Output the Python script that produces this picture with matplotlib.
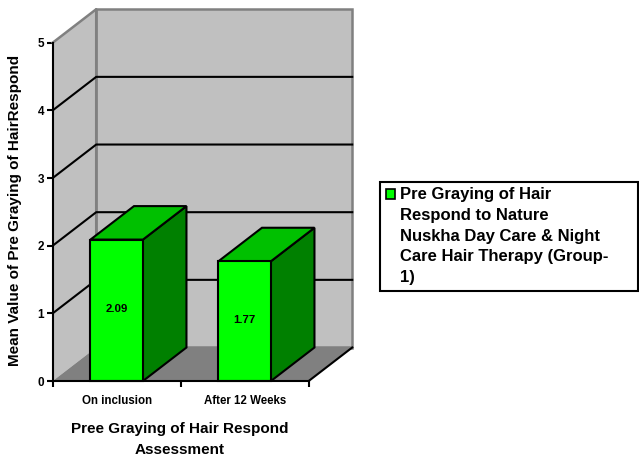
import matplotlib
matplotlib.use("Agg")
import matplotlib.pyplot as plt
from matplotlib.patches import Polygon, Patch

plt.rcParams['font.family'] = ['Liberation Sans', 'DejaVu Sans']
plt.rcParams['font.weight'] = 'bold'

categories = ["On inclusion", "After 12 Weeks"]
values = [2.09, 1.77]
y_ticks = [0, 1, 2, 3, 4, 5]
legend_text = ("Pre Graying of Hair\nRespond to Nature\n"
               "Nuskha Day Care & Night\nCare Hair Therapy (Group-\n1)")
y_title = "Mean Value of Pre Graying of HairRespond"
x_title = "Pree Graying of Hair Respond\nAssessment"

# depth of the fake 3d box, in data units
dx = 0.34
dy = 0.495
bar_w = 0.41
W = 639
H = 459

fig = plt.figure(figsize=(W / 100, H / 100), dpi=100)
ax = fig.add_axes([52.7 / W, 1 - 381 / H, 256 / W, 338.3 / H])
ax.set_xlim(0, len(categories))
ax.set_ylim(0, 5)
ax.patch.set_visible(False)


def poly(pts, fc, ec="none", lw=0, z=1):
    ax.add_patch(Polygon(pts, closed=True, facecolor=fc, edgecolor=ec, linewidth=lw,
                         zorder=z, clip_on=False, joinstyle="miter"))


n = len(categories)
top = y_ticks[-1]
# walls and floor
poly([(dx, dy), (n + dx, dy), (n + dx, top + dy), (dx, top + dy)], "#c0c0c0", "#808080", 1.8)
poly([(0, 0), (dx, dy), (dx, top + dy), (0, top)], "#c0c0c0")
poly([(0, 0), (n, 0), (n + dx, dy), (dx, dy)], "#808080")
ax.plot([0, dx, dx, n + dx], [top, top + dy, dy, dy], color="#808080", lw=1.8, clip_on=False, zorder=2)

for v in y_ticks[1:-1]:
    ax.plot([0, dx, n + dx], [v, v + dy, v + dy], color="black", lw=1.5, clip_on=False, zorder=3)
ax.plot([n, n + dx], [0, dy], color="black", lw=1.5, clip_on=False, zorder=3)

# bars
for i, v in enumerate(values):
    x0 = i + (1 - bar_w) / 2
    x1 = x0 + bar_w
    poly([(x1, 0), (x1 + dx, dy), (x1 + dx, v + dy), (x1, v)], "#008000", "black", 1.5, 4)
    poly([(x0, v), (x1, v), (x1 + dx, v + dy), (x0 + dx, v + dy)], "#00c000", "black", 1.5, 4)
    poly([(x0, 0), (x1, 0), (x1, v), (x0, v)], "#00ff00", "black", 1.5, 5)
    ax.text((x0 + x1) / 2, v / 2 + 0.02, "%.2f" % v, ha="center", va="center", fontsize=8.2, zorder=6)

for s in ["top", "right"]:
    ax.spines[s].set_visible(False)
for s in ["left", "bottom"]:
    ax.spines[s].set_linewidth(1.5)
    ax.spines[s].set_zorder(7)

ax.set_yticks(y_ticks)
ax.set_xticks(range(n + 1))
ax.set_xticklabels([])
ax.set_xticks([i + 0.5 for i in range(n)], categories, minor=True)
ax.tick_params(axis="both", which="major", length=4, width=1.5, labelsize=8.5, pad=2)
ax.tick_params(axis="x", which="minor", length=0, labelsize=8.3, pad=10)

fig.text(15.5 / W, 1 - 210 / H, y_title, rotation=90, ha="center", va="center", fontsize=11)
fig.text(180 / W, 1 - 439.5 / H, x_title, ha="center", va="center", fontsize=11, linespacing=1.62)

leg = fig.legend(handles=[Patch(facecolor="#00ff00", edgecolor="black", linewidth=1.2, label=legend_text)],
                 loc="upper left", bbox_to_anchor=(379.5 / W, 1 - 291.5 / H, 258.5 / W, 110 / H),
                 bbox_transform=fig.transFigure, mode="expand",
                 frameon=True, fancybox=False, framealpha=1, edgecolor="black",
                 fontsize=12, handlelength=0.55, handleheight=0.55, handletextpad=0.3,
                 borderaxespad=0, borderpad=0.36, labelspacing=0)
leg.get_frame().set_linewidth(1.5)
leg.get_texts()[0].set_linespacing(1.46)
# marker sits beside the first line, not the middle of the block
handle = leg.legend_handles[0]
handle.set_y(handle.get_y() + 30)

fig.savefig("out.png", dpi=100)
